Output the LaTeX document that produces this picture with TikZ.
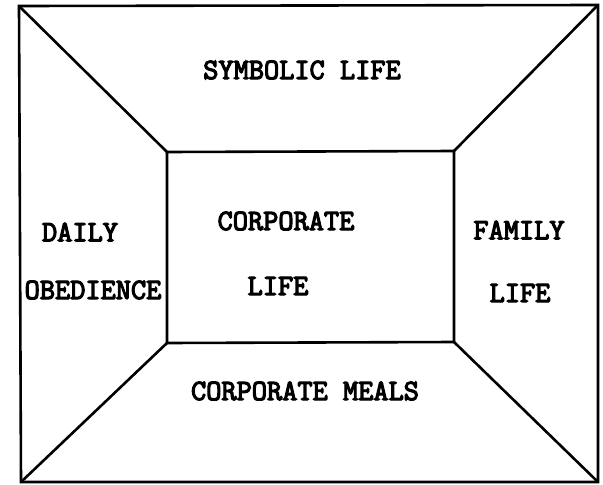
\documentclass[tikz,border=0pt]{standalone}
\usepackage{fontspec}
\newfontfamily\tyfont[FakeBold=4]{Latin Modern Mono}
\begin{document}
\begin{tikzpicture}[x=1pt,y=-1pt,
  edge/.style={line width=2.6pt,line join=miter},
  lbl/.style={inner sep=0pt,font=\tyfont\fontsize{29.5}{31}\selectfont}]
\useasboundingbox (0,0) rectangle (603,485);
% outer corners
\coordinate (OTL) at (19,6);
\coordinate (OTR) at (598,5);
\coordinate (OBR) at (598,482);
\coordinate (OBL) at (21,482);
% inner corners
\coordinate (ITL) at (167,152);
\coordinate (ITR) at (454,151);
\coordinate (IBR) at (454,342);
\coordinate (IBL) at (167,343);
\draw[edge] (OTL) -- (OTR) -- (OBR) -- (OBL) -- cycle;
\draw[edge] (ITL) -- (ITR) -- (IBR) -- (IBL) -- cycle;
\draw[edge] (OTL) -- (ITL);
\draw[edge] (OTR) -- (ITR);
\draw[edge] (OBR) -- (IBR);
\draw[edge] (OBL) -- (IBL);
\node[lbl] (sym) at (302,70) {SYMBOLIC LIFE};
\node[lbl] (corp) at (286,221) {CORPORATE};
\node[lbl] (clife) at (278,286) {LIFE};
\node[lbl] (daily) at (80,232) {DAILY};
\node[lbl] (obed) at (93,290) {OBEDIENCE};
\node[lbl] (fam) at (519,230) {FAMILY};
\node[lbl] (flife) at (520,293) {LIFE};
\node[lbl] (meals) at (305,391) {CORPORATE MEALS};
\end{tikzpicture}
\end{document}
